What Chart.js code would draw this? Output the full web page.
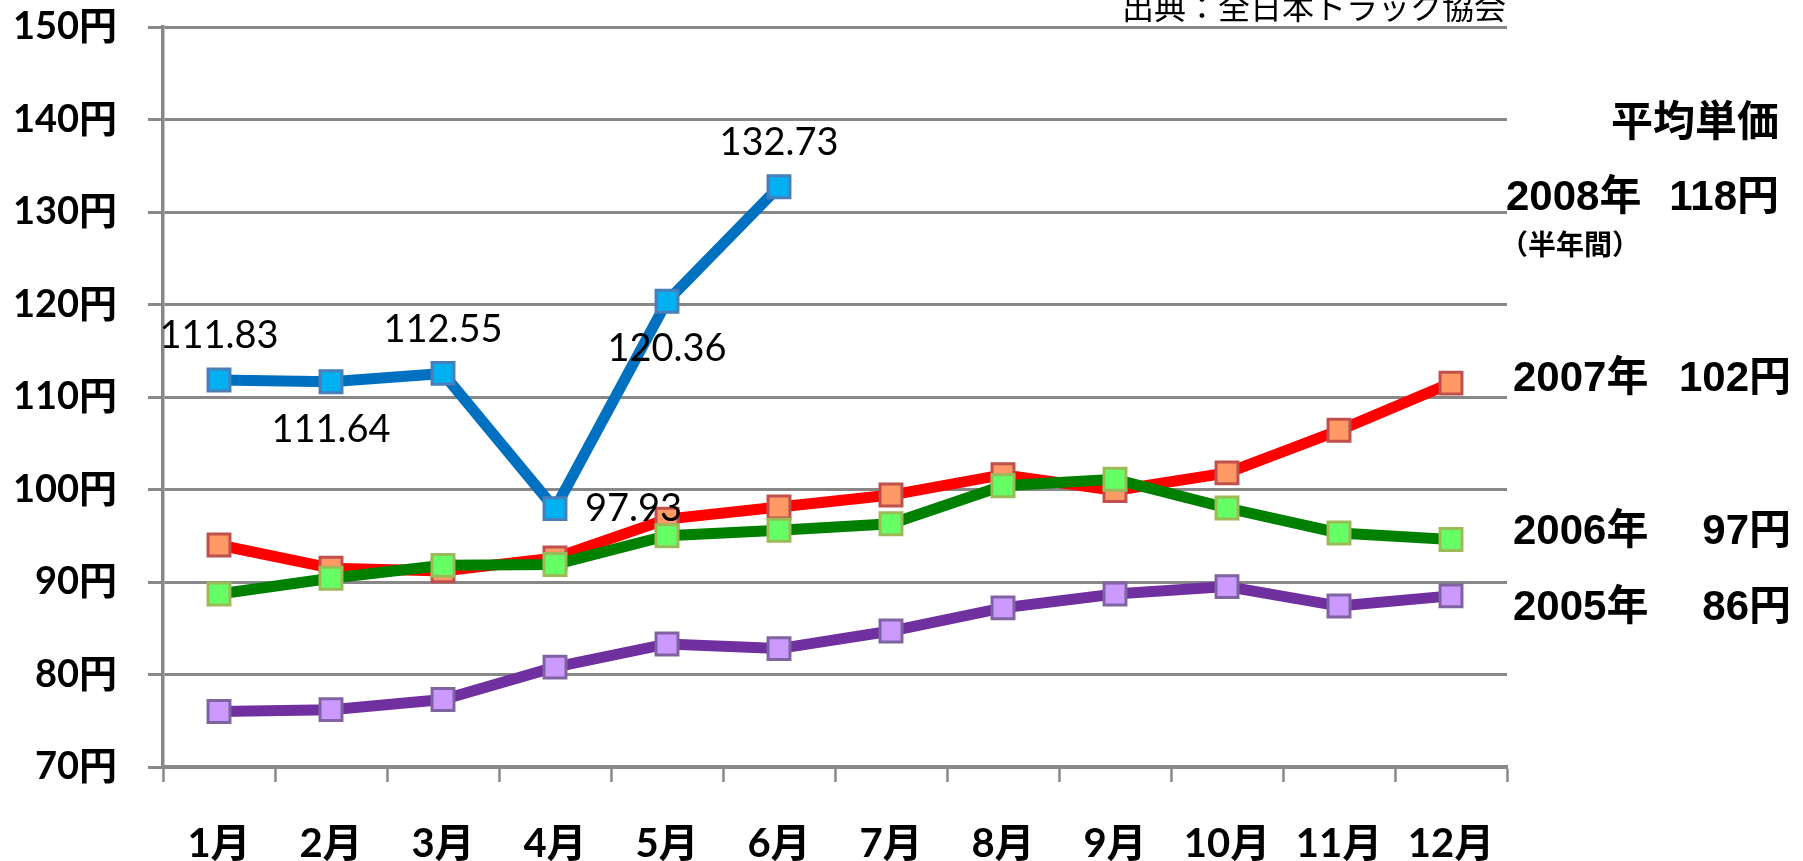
<!DOCTYPE html>
<html><head><meta charset="utf-8">
<script src="https://cdn.jsdelivr.net/npm/chart.js@4.4.1/dist/chart.umd.min.js"></script>
<style>html,body{margin:0;padding:0;background:#fff;overflow:hidden}#wrap{width:1803px;height:861px;position:relative}</style>
</head><body><div id="wrap"><canvas id="c" width="1803" height="861"></canvas></div>
<script>
// ---- data ----
const months = ['1月','2月','3月','4月','5月','6月','7月','8月','9月','10月','11月','12月'];
const price2008 = [111.83, 111.64, 112.55, 97.93, 120.36, 132.73];
const price2007 = [94.0, 91.5, 91.2, 92.6, 96.8, 98.1, 99.4, 101.6, 99.9, 101.8, 106.4, 111.5];
const price2006 = [88.7, 90.4, 91.8, 91.9, 95.0, 95.6, 96.3, 100.4, 101.1, 98.0, 95.3, 94.6];
const price2005 = [76.0, 76.2, 77.3, 80.8, 83.3, 82.8, 84.7, 87.2, 88.7, 89.5, 87.4, 88.5];
const yMin = 70, yMax = 150, yStep = 10;
const yUnit = '円';
const summaryTitle = '平均単価';
const summaryYears = ['2008年', '2007年', '2006年', '2005年'];
const summaryPrices = ['118円', '102円', '97円', '86円'];
const summaryNote = '（半年間）';
const sourceText = '出典：全日本トラック協会';
const label2008Pos = ['above', 'below', 'above', 'right', 'below', 'above'];

// ---- styles ----
const GRID = '#888888';
const tickFont = {family: 'Lato, "Noto Sans CJK JP", sans-serif', weight: 'bold', size: 38};
const xFont = {family: 'Lato, "Noto Sans CJK JP", sans-serif', weight: 'bold', size: 40};

function ds(label, data, line, fill, border) {
  return {
    label, data,
    borderColor: line, borderWidth: 11,
    pointStyle: 'rect', pointRadius: 15.5, pointHoverRadius: 15.5,
    pointBackgroundColor: fill, pointBorderColor: border, pointBorderWidth: 3,
    tension: 0, fill: false
  };
}

const dataLabelPlugin = {
  id: 'dataLabels',
  afterDatasetsDraw(chart) {
    const ctx = chart.ctx;
    const meta = chart.getDatasetMeta(0);
    ctx.save();
    ctx.font = '38px Lato, sans-serif';
    ctx.fillStyle = '#000';
    meta.data.forEach((pt, i) => {
      const v = chart.data.datasets[0].data[i];
      const txt = v.toFixed(2);
      const pos = label2008Pos[i];
      let x = pt.x, y = pt.y;
      ctx.textBaseline = 'middle';
      if (pos === 'above') { ctx.textAlign = 'center'; y -= 44; }
      else if (pos === 'below') { ctx.textAlign = 'center'; y += 48; }
      else { ctx.textAlign = 'left'; x += 30; }
      ctx.fillText(txt, x, y);
    });
    ctx.restore();
  }
};

const textPlugin = {
  id: 'texts',
  afterDraw(chart) {
    const ctx = chart.ctx;
    ctx.save();
    ctx.fillStyle = '#000';
    ctx.font = '32px "Noto Sans CJK JP", sans-serif';
    ctx.textAlign = 'right';
    ctx.textBaseline = 'alphabetic';
    ctx.fillText(sourceText, 1506, 19);

    ctx.textBaseline = 'middle';
    ctx.font = 'bold 42px "Liberation Sans", "Noto Sans CJK JP", sans-serif';
    ctx.fillText(summaryTitle, 1779, 124);

    const rowY = [198, 379, 532, 608];
    const leftX = [1506, 1513, 1513, 1513];
    const rightX = [1779, 1791, 1791, 1791];
    summaryYears.forEach((yr, i) => {
      ctx.textAlign = 'left';
      ctx.fillText(yr, leftX[i], rowY[i]);
      ctx.textAlign = 'right';
      ctx.fillText(summaryPrices[i], rightX[i], rowY[i]);
    });
    ctx.font = 'bold 28px "Noto Sans CJK JP", sans-serif';
    ctx.textAlign = 'left';
    ctx.fillText(summaryNote, 1500, 244);
    ctx.restore();
  }
};

new Chart(document.getElementById('c'), {
  type: 'line',
  data: {
    labels: months,
    datasets: [
      ds('2008年', price2008, '#0070C0', '#00B0F0', '#4A7EBB'),
      ds('2006年', price2006, '#008000', '#66FF66', '#9BBB59'),
      ds('2007年', price2007, '#FF0000', '#FF9966', '#C0504D'),
      ds('2005年', price2005, '#7030A0', '#CC99FF', '#8064A2')
    ]
  },
  options: {
    responsive: false, animation: false,
    layout: {padding: {left: 0, right: 296, top: 27, bottom: 0}},
    plugins: {legend: {display: false}, tooltip: {enabled: false}},
    scales: {
      x: {
        offset: true,
        grid: {offset: true, drawOnChartArea: false, drawTicks: true, tickLength: 15, color: GRID, tickWidth: 2.5},
        border: {display: true, color: GRID, width: 3.5},
        ticks: {font: xFont, color: '#000', padding: 38, maxRotation: 0, autoSkip: false},
        afterFit(s) { s.height = 94; s.paddingLeft = 0; s.paddingRight = 0; }
      },
      y: {
        min: yMin, max: yMax,
        grid: {color: GRID, lineWidth: 3, tickLength: 15, drawTicks: true},
        border: {display: true, color: GRID, width: 3.5},
        ticks: {stepSize: yStep, font: tickFont, color: '#000', padding: 31,
          callback: v => v + yUnit},
        afterFit(s) { s.width = 163; s.paddingTop = 0; s.paddingBottom = 0; }
      }
    }
  },
  plugins: [dataLabelPlugin, textPlugin]
});
</script></body></html>
